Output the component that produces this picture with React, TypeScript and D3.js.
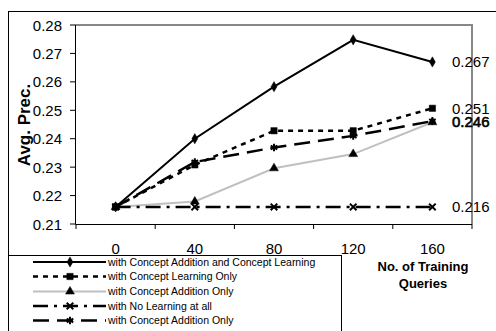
import * as d3 from "d3";

const queries = ["0", "40", "80", "120", "160"];
const yTicks = [0.21, 0.22, 0.23, 0.24, 0.25, 0.26, 0.27, 0.28];

const bothValues = [0.216, 0.24, 0.2583, 0.2748, 0.267];
const learningValues = [0.216, 0.2308, 0.2428, 0.2428, 0.2507];
const additionValues = [0.216, 0.2179, 0.2296, 0.2346, 0.2458];
const noneValues = [0.216, 0.216, 0.216, 0.216, 0.216];
const addition2Values = [0.216, 0.2318, 0.2369, 0.241, 0.2462];

const seriesNames = [
  "with Concept Addition and Concept Learning",
  "with Concept Learning Only",
  "with Concept Addition Only",
  "with No Learning at all",
  "with Concept Addition Only",
];

const series = [
  { name: seriesNames[0], values: bothValues, color: "#000", width: 2, dash: "", sym: d3.symbolDiamond, size: 30, filled: true },
  { name: seriesNames[1], values: learningValues, color: "#000", width: 2.5, dash: "5,5", sym: d3.symbolSquare, size: 40, filled: true },
  { name: seriesNames[2], values: additionValues, color: "#c0c0c0", width: 2, dash: "", sym: d3.symbolTriangle, size: 34, filled: true },
  { name: seriesNames[3], values: noneValues, color: "#000", width: 2.5, dash: "15,6,3,6", sym: d3.symbolTimes, size: 30, filled: false },
  { name: seriesNames[4], values: addition2Values, color: "#000", width: 2.5, dash: "16,8", sym: d3.symbolAsterisk, size: 40, filled: false },
];

const font = "Liberation Sans, Arial, sans-serif";

export default function App() {
  const left = 76;
  const right = 472;
  const top = 25;
  const bottom = 224;

  const x = d3.scaleBand().domain(queries).range([left, right]);
  const y = d3.scaleLinear().domain([0.21, 0.28]).range([bottom, top]);
  const cx = (q: string) => (x(q) as number) + x.bandwidth() / 2;
  const fmt = d3.format(".3f");

  const line = d3
    .line<number>()
    .x((_, i) => cx(queries[i]))
    .y((d) => y(d));

  const boundaries = [...queries.map((q) => x(q) as number), right];

  // end labels: series ending on the same rounded value share one (heavier) label
  const endLabels = d3
    .groups(series.map((s) => s.values[s.values.length - 1]), (v) => fmt(v))
    .map(([label, vals]) => ({ label, v: d3.mean(vals) as number, dup: vals.length > 1 }));

  const marker = (s: any, px: number, py: number, key: string) => (
    <path
      key={key}
      d={d3.symbol().type(s.sym).size(s.size)() as string}
      transform={`translate(${px},${py})`}
      fill={s.filled ? "#000" : "none"}
      stroke="#000"
      strokeWidth={s.filled ? 0.5 : 2}
    />
  );

  const legendRows = [262, 276.5, 291.5, 306, 320.5];

  return (
    <svg
      width={496}
      height={331}
      style={{ position: "absolute", left: 0, top: 0, background: "#fff" }}
      fontFamily={font}
    >
      <rect x={8.5} y={11.5} width={500} height={400} fill="#fff" stroke="#000" />

      {/* plot frame */}
      <polyline
        points={`${left},${top} ${right},${top} ${right},${bottom}`}
        fill="none"
        stroke="#888"
        strokeWidth={2}
      />

      {/* y axis */}
      <line x1={left - 0.5} x2={left - 0.5} y1={top} y2={bottom} stroke="#000" />
      {yTicks.map((t) => (
        <g key={t}>
          <line x1={70} x2={left} y1={y(t)} y2={y(t)} stroke="#000" />
          <text x={62} y={y(t) + 5.5} textAnchor="end" fontSize={15}>
            {t.toFixed(2)}
          </text>
        </g>
      ))}

      {/* x axis */}
      <line x1={left - 0.5} x2={right} y1={bottom + 0.5} y2={bottom + 0.5} stroke="#000" />
      {boundaries.map((b, i) => (
        <line key={i} x1={b} x2={b} y1={bottom} y2={bottom + 5} stroke="#000" />
      ))}
      {queries.map((q) => (
        <text key={q} x={cx(q)} y={253.5} textAnchor="middle" fontSize={15}>
          {q}
        </text>
      ))}

      <text
        transform="translate(30,125) rotate(-90)"
        textAnchor="middle"
        fontSize={17}
        fontWeight="bold"
      >
        Avg. Prec.
      </text>
      <text x={423} y={271} textAnchor="middle" fontSize={13} fontWeight="bold">
        No. of Training
      </text>
      <text x={423} y={288} textAnchor="middle" fontSize={13} fontWeight="bold">
        Queries
      </text>

      {/* lines */}
      {series.map((s, i) => (
        <path
          key={i}
          d={line(s.values) as string}
          fill="none"
          stroke={s.color}
          strokeWidth={s.width}
          strokeDasharray={s.dash}
        />
      ))}
      {series.map((s, i) =>
        s.values.map((v, j) => marker(s, cx(queries[j]), y(v), `m${i}-${j}`))
      )}

      {endLabels.map((l) => (
        <text
          key={l.label}
          x={452}
          y={y(l.v) + 5.5}
          fontSize={15}
          stroke={l.dup ? "#000" : "none"}
          strokeWidth={l.dup ? 0.6 : 0}
        >
          {l.label}
        </text>
      ))}

      {/* legend */}
      <rect x={8.5} y={255.5} width={333} height={100} fill="#fff" stroke="#000" />
      {series.map((s, i) => (
        <g key={i}>
          <line
            x1={33}
            x2={106}
            y1={legendRows[i]}
            y2={legendRows[i]}
            stroke={s.color}
            strokeWidth={s.width}
            strokeDasharray={s.dash}
          />
          {marker(s, 70, legendRows[i], `l${i}`)}
          <text x={108} y={legendRows[i] + 3.8} fontSize={10.5}>
            {s.name}
          </text>
        </g>
      ))}
    </svg>
  );
}
